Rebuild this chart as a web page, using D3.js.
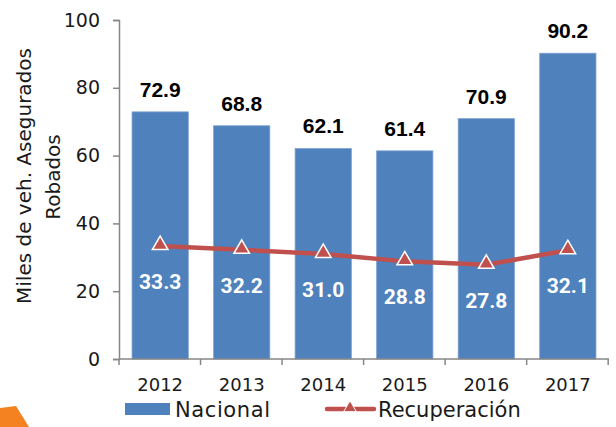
<!DOCTYPE html>
<html>
<head>
<meta charset="utf-8">
<script src="https://cdn.jsdelivr.net/npm/d3@7"></script>
<style>
  body { margin: 0; background: #fff; }
  svg { display: block; }
</style>
</head>
<body>
<div id="chart"></div>
<script>
// datos
var years = ["2012", "2013", "2014", "2015", "2016", "2017"];
var nacional = [72.9, 68.8, 62.1, 61.4, 70.9, 90.2];
var recuperacion = [33.3, 32.2, 31.0, 28.8, 27.8, 32.1];
var yTicks = [0, 20, 40, 60, 80, 100];

var width = 616;
var height = 427;
var plotLeft = 119, plotRight = 609, plotTop = 20, plotBottom = 359;
var font = "'DejaVu Sans', Verdana, sans-serif";

var svg = d3.select("#chart")
    .append("svg")
    .attr("width", width)
    .attr("height", height);

var x = d3.scaleBand()
    .domain(years)
    .range([plotLeft, plotRight])
    .paddingInner(0.31)
    .paddingOuter(0.16);

var y = d3.scaleLinear()
    .domain([0, 100])
    .range([plotBottom, plotTop]);

// esquina naranja
svg.append("path")
    .attr("d", "M0,408 L16,406 L29,427 L0,427 Z")
    .attr("fill", "#F58220");

// barras
svg.selectAll("rect.bar")
    .data(nacional)
    .enter()
    .append("rect")
    .attr("class", "bar")
    .attr("x", function(d, i) { return x(years[i]); })
    .attr("y", function(d) { return y(d); })
    .attr("width", x.bandwidth())
    .attr("height", function(d) { return y(0) - y(d); })
    .attr("fill", "#4F81BD")
    .attr("stroke", "#7FA3D1")
    .attr("stroke-width", 0.8);

// eje y
var yAxis = svg.append("g")
    .attr("transform", "translate(" + plotLeft + ",0)")
    .call(d3.axisLeft(y).tickValues(yTicks).tickSize(6).tickPadding(13));
yAxis.select(".domain").attr("stroke", "#868686").attr("stroke-width", 1.5);
yAxis.selectAll(".tick line").attr("stroke", "#868686").attr("stroke-width", 1.5);
yAxis.selectAll("text")
    .attr("font-family", font)
    .attr("font-size", "19px")
    .attr("fill", "#1a1a1a");

// eje x
var xAxis = svg.append("g")
    .attr("transform", "translate(0," + plotBottom + ")")
    .call(d3.axisBottom(x).tickSize(0).tickPadding(19));
xAxis.select(".domain").remove();
xAxis.selectAll("text")
    .attr("font-family", font)
    .attr("font-size", "18px")
    .attr("fill", "#1a1a1a");
svg.append("line")
    .attr("x1", plotLeft).attr("x2", plotRight)
    .attr("y1", plotBottom).attr("y2", plotBottom)
    .attr("stroke", "#868686").attr("stroke-width", 1.5);
var step = x.step();
svg.selectAll("line.xtick")
    .data(d3.range(years.length + 1))
    .enter()
    .append("line")
    .attr("class", "xtick")
    .attr("x1", function(i) { return plotLeft + i * step; })
    .attr("x2", function(i) { return plotLeft + i * step; })
    .attr("y1", plotBottom)
    .attr("y2", plotBottom + 6)
    .attr("stroke", "#868686")
    .attr("stroke-width", 1.5);

// etiquetas de las barras
svg.selectAll("text.top")
    .data(nacional)
    .enter()
    .append("text")
    .attr("class", "top")
    .text(function(d) { return d.toFixed(1); })
    .attr("x", function(d, i) { return x(years[i]) + x.bandwidth() / 2; })
    .attr("y", function(d) { return y(d) - 15; })
    .attr("text-anchor", "middle")
    .attr("font-family", "'Liberation Sans', Arial, sans-serif")
    .attr("font-weight", "bold")
    .attr("font-size", "21px")
    .attr("fill", "#000");

// línea de recuperación
var cx = function(d, i) { return x(years[i]) + x.bandwidth() / 2; };
var line = d3.line()
    .x(cx)
    .y(function(d) { return y(d); });

svg.append("path")
    .datum(recuperacion)
    .attr("d", line)
    .attr("fill", "none")
    .attr("stroke", "#C0504D")
    .attr("stroke-width", 4.5);

var tri = d3.symbol().type(d3.symbolTriangle).size(105);
svg.selectAll("path.tri")
    .data(recuperacion)
    .enter()
    .append("path")
    .attr("class", "tri")
    .attr("d", tri)
    .attr("transform", function(d, i) { return "translate(" + cx(d, i) + "," + (y(d) - 1) + ")"; })
    .attr("fill", "#C0504D")
    .attr("stroke", "#fff")
    .attr("stroke-width", 1.5);

svg.selectAll("text.rec")
    .data(recuperacion)
    .enter()
    .append("text")
    .attr("class", "rec")
    .text(function(d) { return d.toFixed(1); })
    .attr("x", cx)
    .attr("y", function(d) { return y(d) + 43; })
    .attr("text-anchor", "middle")
    .attr("font-family", "Roboto, 'Liberation Sans', sans-serif")
    .attr("font-weight", "bold")
    .attr("font-size", "21px")
    .attr("fill", "#fff");

// título eje y
svg.append("text")
    .attr("transform", "translate(31,176) rotate(-90)")
    .attr("text-anchor", "middle")
    .attr("font-family", font)
    .attr("font-size", "20px")
    .attr("fill", "#1a1a1a")
    .text("Miles de veh. Asegurados");
svg.append("text")
    .attr("transform", "translate(60,177) rotate(-90)")
    .attr("text-anchor", "middle")
    .attr("font-family", font)
    .attr("font-size", "20px")
    .attr("fill", "#1a1a1a")
    .text("Robados");

// leyenda
svg.append("rect")
    .attr("x", 125).attr("y", 403)
    .attr("width", 45).attr("height", 12)
    .attr("fill", "#4F81BD");
svg.append("text")
    .attr("x", 175).attr("y", 417)
    .text("Nacional")
    .attr("font-family", font)
    .attr("font-size", "21px")
    .attr("letter-spacing", "0.6px")
    .attr("fill", "#1a1a1a");
svg.append("line")
    .attr("x1", 327).attr("x2", 374)
    .attr("y1", 409).attr("y2", 409)
    .attr("stroke", "#C0504D").attr("stroke-width", 4.5)
    .attr("stroke-linecap", "round");
svg.append("path")
    .attr("d", d3.symbol().type(d3.symbolTriangle).size(70))
    .attr("transform", "translate(350,408)")
    .attr("fill", "#C0504D")
    .attr("stroke", "#fff")
    .attr("stroke-width", 1);
svg.append("text")
    .attr("x", 378).attr("y", 417)
    .text("Recuperación")
    .attr("font-family", font)
    .attr("font-size", "21px")
    .attr("fill", "#1a1a1a");
</script>
</body>
</html>
